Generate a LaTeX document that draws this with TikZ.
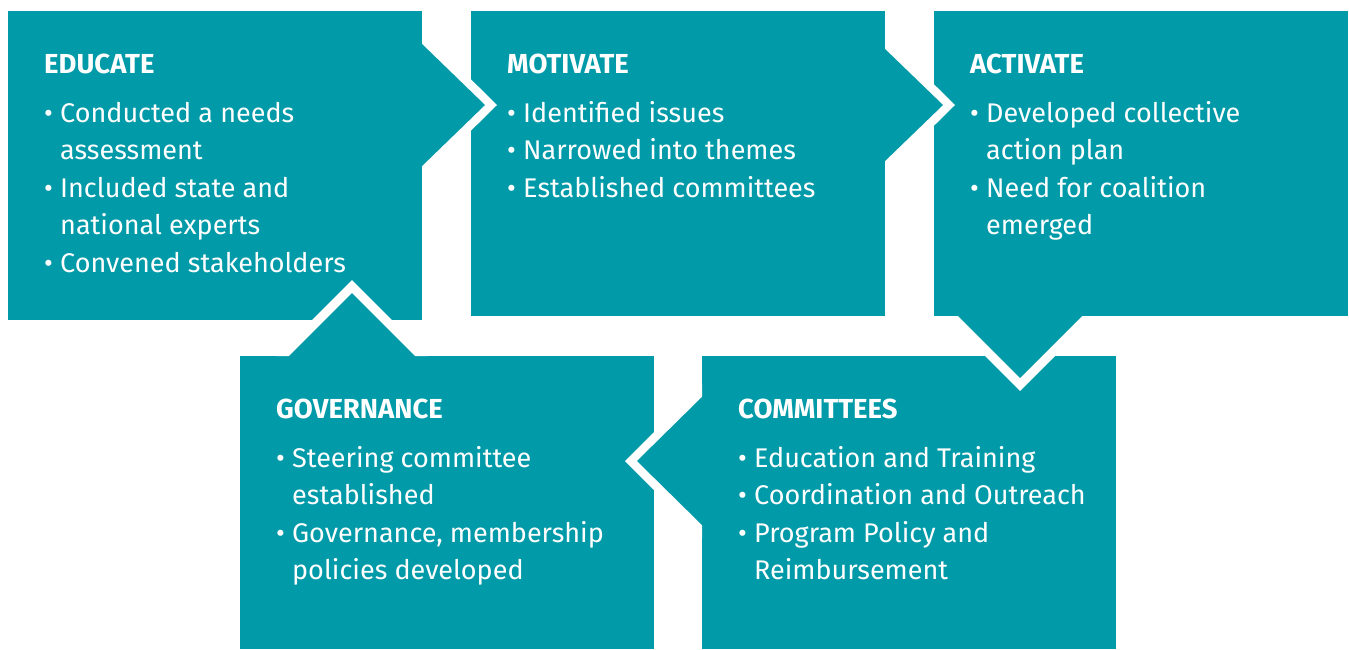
\documentclass[tikz,border=0pt]{standalone}
\usepackage{fontspec}
\setmainfont{Fira Sans}
\usepackage{tikz}
\usetikzlibrary{positioning}
\definecolor{stepteal}{RGB}{0,154,168}
\tikzset{box/.style = {fill = stepteal, inner sep = 0, minimum width = 414}}
\tikzset{head/.style = {anchor = base west, inner sep = 0, text = white,
                        font = \fontsize{27.5}{30}\selectfont\bfseries}}
\tikzset{items/.style = {anchor = north west, inner sep = 0, text = white, align = left,
                         font = \fontsize{27}{37.5}\selectfont}}
\tikzset{gap/.style = {fill = white}}
\tikzset{tip/.style = {fill = stepteal}}
\newcommand{\bul}{\makebox[16pt][l]{•}}
\newcommand{\ind}{\hspace*{16pt}}
\newcommand{\firstline}{\rule{0pt}{26pt}}

\begin{document}
\begin{tikzpicture}[x = 1pt, y = -1pt]
      \useasboundingbox (0, 0) rectangle (1349, 649);

      % the five boxes
      \node (educate) at (215, 165.5) [box, minimum height = 309] {};
      \node (motivate) at (678, 163.5) [box, minimum height = 305] {};
      \node (activate) at (1141, 163.5) [box, minimum height = 305] {};
      \node (governance) at (447, 502.5) [box, minimum height = 293] {};
      \node (committees) at (909, 502.5) [box, minimum height = 293] {};

      % arrows between the boxes
      \fill [gap] (422, 31) -- (497, 105) -- (422, 179) -- cycle;
      \fill [tip] (421, 43) -- (485, 105) -- (421, 167) -- cycle;
      \fill [gap] (885, 36) -- (955, 105) -- (885, 174) -- cycle;
      \fill [tip] (884, 48) -- (943, 105) -- (884, 162) -- cycle;
      \fill [gap] (945, 316) -- (1020, 391) -- (1095, 316) -- cycle;
      \fill [tip] (957, 315) -- (1020, 378) -- (1083, 315) -- cycle;
      \fill [gap] (702, 384) -- (625, 461) -- (702, 538) -- cycle;
      \fill [tip] (703, 396) -- (637, 461) -- (703, 526) -- cycle;
      \fill [gap] (276, 356) -- (352, 280) -- (428, 356) -- cycle;
      \fill [tip] (288, 357) -- (352, 293) -- (416, 357) -- cycle;

      % texts
      \node (educate-head) at (44, 73) [head] {EDUCATE};
      \node (educate-body) at (44, 96) [items]
            {\firstline\bul Conducted a needs\\ \ind assessment\\
             \bul Included state and\\ \ind national experts\\
             \bul Convened stakeholders};
      \node (motivate-head) at (507, 73) [head] {MOTIVATE};
      \node (motivate-body) at (507, 96) [items]
            {\firstline\bul Identified issues\\ \bul Narrowed into themes\\
             \bul Established committees};
      \node (activate-head) at (970, 73) [head] {ACTIVATE};
      \node (activate-body) at (970, 96) [items]
            {\firstline\bul Developed collective\\ \ind action plan\\
             \bul Need for coalition\\ \ind emerged};
      \node (governance-head) at (276, 418) [head] {GOVERNANCE};
      \node (governance-body) at (276, 441) [items]
            {\firstline\bul Steering committee\\ \ind established\\
             \bul Governance, membership\\ \ind policies developed};
      \node (committees-head) at (738, 418) [head] {COMMITTEES};
      \node (committees-body) at (738, 441) [items]
            {\firstline\bul Education and Training\\ \bul Coordination and Outreach\\
             \bul Program Policy and\\ \ind Reimbursement};
    \end{tikzpicture}
\end{document}
